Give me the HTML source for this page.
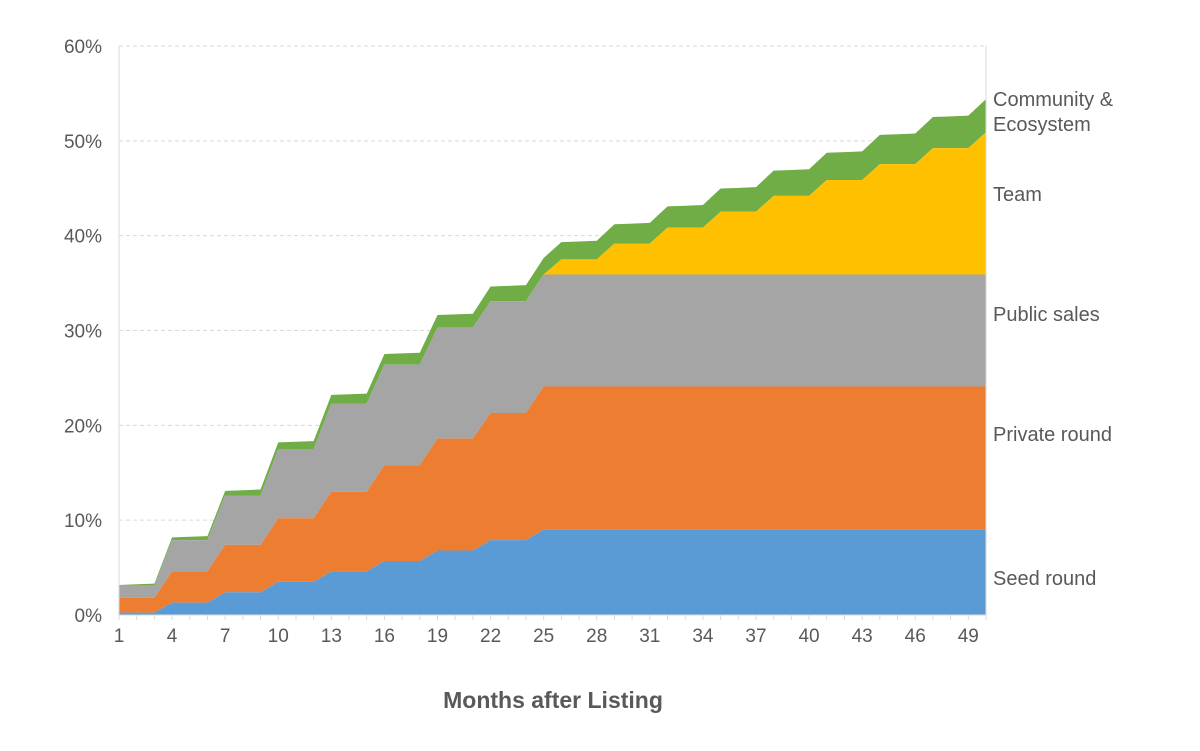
<!DOCTYPE html>
<html><head><meta charset="utf-8"><style>
html,body{margin:0;padding:0;background:#fff;}
svg text{font-family:"Liberation Sans",Arial,sans-serif;fill:#595959;}
</style></head><body>
<svg id="c" width="1200" height="746" viewBox="0 0 1200 746" xmlns="http://www.w3.org/2000/svg"></svg>
<script>
const svg=document.getElementById('c');
const X0=119,X1=986,Y0=615,PX=(615-46)/60;
const xm=m=>X0+(m-1)*(X1-X0)/49, yv=v=>Y0-v*PX;
let h='';
for(let i=1;i<=6;i++){const y=yv(i*10);h+=`<line x1="${X0}" x2="${X1}" y1="${y}" y2="${y}" stroke="#d9d9d9" stroke-dasharray="4,3"/>`;}
for(let i=0;i<=6;i++){h+=`<text x="102" y="${yv(i*10)+7}" font-size="19" text-anchor="end">${i*10}%</text>`;}
const seedS=[0.25,1.3,2.4,3.5,4.6,5.7,6.8,7.9,9.0];
const privS=[1.8,4.6,7.4,10.2,13.0,15.8,18.6,21.3,24.1];
const pubS=[3.1,7.9,12.6,17.5,22.3,26.4,30.3,33.1,35.9];
const seed=[],pr=[],pu=[],te=[],co=[];
for(let m=1;m<=50;m++){
 const k=Math.min(8,Math.floor((m-1)/3));
 seed.push(seedS[k]);pr.push(privS[k]);pu.push(pubS[k]);
 let t=0; if(m>=26){t=Math.min(15,1.6+Math.floor((m-26)/3)*1.675);} if(m==50)t=15;
 te.push(pu[m-1]+t);
 co.push(te[m-1]+0.07*m);
}
const band=(top,bot,col)=>{let p=[];for(let m=1;m<=50;m++)p.push(xm(m)+','+yv(top[m-1]));for(let m=50;m>=1;m--)p.push(xm(m)+','+(bot?yv(bot[m-1]):Y0));return `<polygon points="${p.join(' ')}" fill="${col}"/>`;};
h+=band(co,te,'#70ad47');
h+=band(te,pu,'#ffc000');
h+=band(pu,pr,'#a5a5a5');
h+=band(pr,seed,'#ed7d31');
h+=band(seed,null,'#5b9bd5');
h+=`<line x1="${X0}" x2="${X0}" y1="46" y2="${Y0}" stroke="#d9d9d9"/>`;
h+=`<line x1="${X1}" x2="${X1}" y1="46" y2="${Y0}" stroke="#d9d9d9"/>`;
h+=`<line x1="${X0}" x2="${X1}" y1="${Y0}" y2="${Y0}" stroke="#d9d9d9"/>`;
for(let m=1;m<=50;m++){h+=`<line x1="${xm(m)}" x2="${xm(m)}" y1="${Y0}" y2="${Y0+5}" stroke="#d9d9d9"/>`;}
for(let m=1;m<=49;m+=3){h+=`<text x="${xm(m)}" y="642" font-size="19" text-anchor="middle">${m}</text>`;}
h+=`<text x="553" y="708" font-size="23" font-weight="bold" text-anchor="middle">Months after Listing</text>`;
const lab=[["Community &",106],["Ecosystem",131],["Team",201],["Public sales",321],["Private round",441],["Seed round",585]];
for(const [t,y] of lab)h+=`<text x="993" y="${y}" font-size="20">${t.replace('&','&amp;')}</text>`;
svg.innerHTML=h;
</script>
</body></html>
